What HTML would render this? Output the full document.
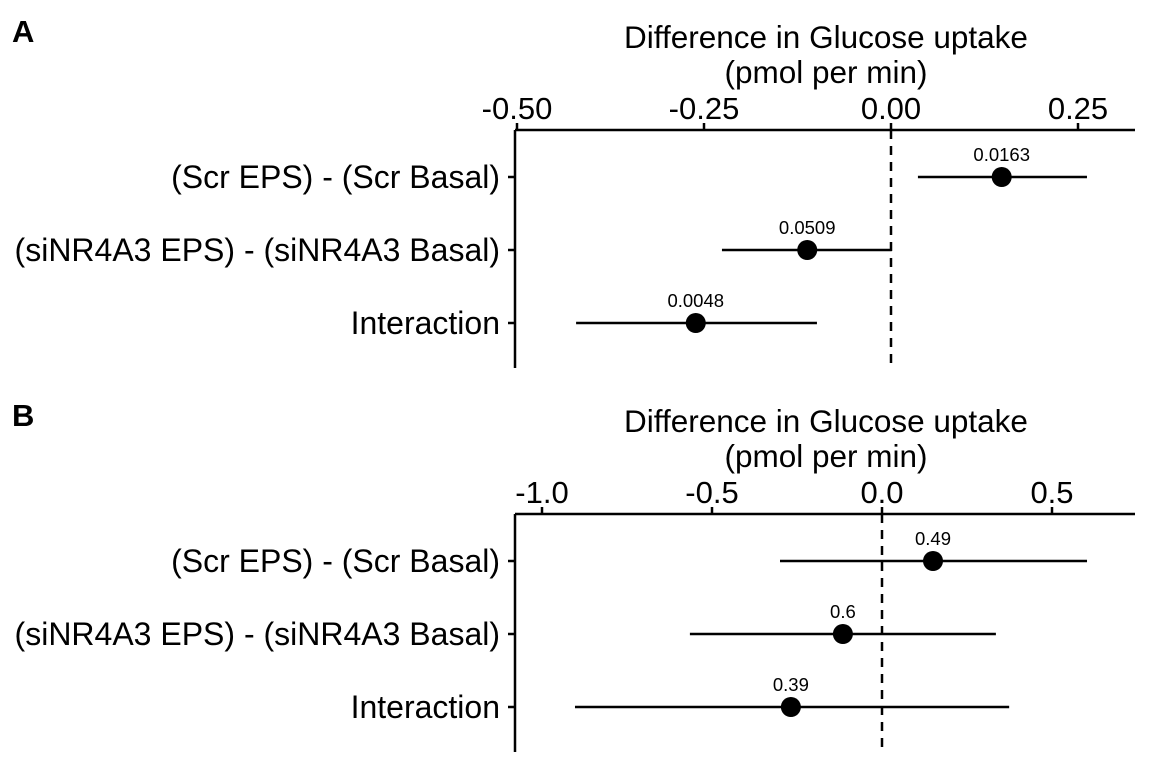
<!DOCTYPE html>
<html><head><meta charset="utf-8"><style>
body{margin:0;background:#fff}
svg text{font-family:"Liberation Sans",Arial,sans-serif;fill:#000}
</style></head><body>
<svg width="1152" height="768" viewBox="0 0 1152 768" id="fig">
</svg>
<script>
const categories=["(Scr EPS) - (Scr Basal)","(siNR4A3 EPS) - (siNR4A3 Basal)","Interaction"];
const estA=[0.148,-0.112,-0.261];
const lowA=[0.036,-0.226,-0.421];
const highA=[0.262,0.001,-0.099];
const pA=["0.0163","0.0509","0.0048"];
const ticksA=[-0.5,-0.25,0,0.25];
const tickLabelsA=["-0.50","-0.25","0.00","0.25"];
const estB=[0.15,-0.115,-0.268];
const lowB=[-0.30,-0.565,-0.903];
const highB=[0.603,0.335,0.374];
const pB=["0.49","0.6","0.39"];
const ticksB=[-1,-0.5,0,0.5];
const tickLabelsB=["-1.0","-0.5","0.0","0.5"];

const NS="http://www.w3.org/2000/svg";
const svg=document.getElementById('fig');
function mk(t,a,p){const e=document.createElementNS(NS,t);for(const k in a)e.setAttribute(k,a[k]);(p||svg).appendChild(e);return e;}

function panel(letter,off,zero,scale,est,low,high,pv,ticks,tl){
  const g=mk('g',{});
  
  
  const x=v=>zero+v*scale;
  const rowY=[177+off,250+off,323+off];
  let t=mk('text',{x:12,y:42+off,'font-size':31,'font-weight':'bold'},g);t.textContent=letter;
  
  t=mk('text',{x:826,y:48+off,'font-size':31.5,'text-anchor':'middle'},g);t.textContent="Difference in Glucose uptake";
  
  t=mk('text',{x:826,y:83+off,'font-size':31.5,'text-anchor':'middle'},g);t.textContent="(pmol per min)";
  
  let l=mk('line',{x1:515,x2:1135,y1:130+off,y2:130+off,stroke:'#000','stroke-width':2.5},g);
  
  l=mk('line',{x1:515,x2:515,y1:130+off,y2:368+off,stroke:'#000','stroke-width':2.5},g);
  
  ticks.forEach((v,i)=>{
    const tk=mk('line',{x1:x(v),x2:x(v),y1:123+off,y2:130+off,stroke:'#000','stroke-width':2.5},g);
    
    const tx=mk('text',{x:x(v),y:119+off,'font-size':31,'text-anchor':'middle'},g);tx.textContent=tl[i];
    
  });
  const z=mk('line',{x1:x(0),x2:x(0),y1:130+off,y2:368+off,stroke:'#000','stroke-width':2.5,'stroke-dasharray':'9,7'},g);
  
  categories.forEach((c,i)=>{
    const y=rowY[i];
    const tk=mk('line',{x1:508,x2:515,y1:y,y2:y,stroke:'#000','stroke-width':2.5},g);
    
    const cl=mk('text',{x:500,y:y+11,'font-size':32,'text-anchor':'end'},g);cl.textContent=c;
    
    const ci=mk('line',{x1:x(low[i]),x2:x(high[i]),y1:y,y2:y,stroke:'#000','stroke-width':2.5},g);
    
    const pt=mk('circle',{cx:x(est[i]),cy:y,r:10,fill:'#000'},g);
    
    const pl=mk('text',{x:x(est[i]),y:y-16,'font-size':18.5,'text-anchor':'middle'},g);pl.textContent=pv[i];
    
  });
}
panel("A",0,891,748,estA,lowA,highA,pA,ticksA,tickLabelsA);
panel("B",384,882,340,estB,lowB,highB,pB,ticksB,tickLabelsB);
</script>
</body></html>
